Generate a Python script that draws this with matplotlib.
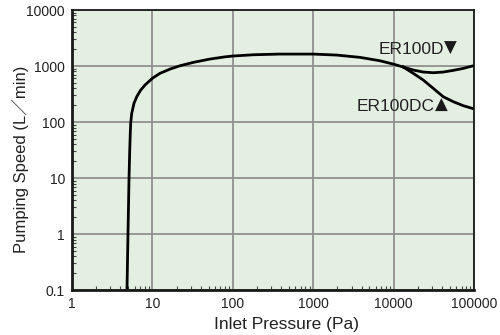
import numpy as np
import matplotlib.pyplot as plt
from matplotlib.ticker import LogLocator, NullFormatter, FixedLocator

plt.rcParams['font.family'] = ['Liberation Sans', 'Noto Sans CJK JP', 'DejaVu Sans']

# common part of the curve (Pa, L/min)
p_common = [4.83, 4.97, 5.12, 5.22, 5.30, 5.37, 5.53, 5.90, 6.38, 7.15, 8.09, 9.97,
            12.4, 16.6, 22.0, 32.3, 52, 80, 100, 180, 386, 1000, 1960, 3820, 6770,
            10000, 13200]
s_common = [0.1, 1, 10, 30, 60, 95, 143, 216, 283, 373, 458, 603,
            741, 884, 1012, 1164, 1334, 1460, 1510, 1591, 1637, 1637, 1571, 1429, 1244,
            1080, 960]

# ER100D branch
p_d = [13200, 17600, 23400, 31200, 41500, 55300, 73600, 100000]
s_d = [960, 848, 782, 760, 782, 838, 908, 1020]

# ER100DC branch
p_dc = [13200, 17600, 23400, 31200, 41500, 55300, 73600, 100000]
s_dc = [960, 740, 562, 399, 283, 231, 196, 172]

xticks = [1, 10, 100, 1000, 10000, 100000]
xlabels = ['1', '10', '100', '1000', '10000', '100000']
yticks = [0.1, 1, 10, 100, 1000, 10000]
ylabels = ['0.1', '1', '10', '100', '1000', '10000']

fig = plt.figure(figsize=(5, 3.35), dpi=100)
ax = fig.add_axes([0.144, 0.134, 0.804, 0.836])
ax.set_facecolor('#e3f0e1')

ax.plot(p_common, s_common, color='black', lw=2, solid_joinstyle='round')
ax.plot(p_d, s_d, color='black', lw=2, solid_joinstyle='round')
ax.plot(p_dc, s_dc, color='black', lw=2, solid_joinstyle='round')

ax.set_xscale('log')
ax.set_yscale('log')
ax.set_xlim(1, 100000)
ax.set_ylim(0.1, 10000)

ax.xaxis.set_major_locator(FixedLocator(xticks))
ax.yaxis.set_major_locator(FixedLocator(yticks))
ax.set_xticklabels(xlabels)
ax.set_yticklabels(ylabels)
ax.xaxis.set_minor_locator(LogLocator(base=10, subs=np.arange(2, 10)))
ax.yaxis.set_minor_locator(LogLocator(base=10, subs=np.arange(2, 10)))
ax.xaxis.set_minor_formatter(NullFormatter())
ax.yaxis.set_minor_formatter(NullFormatter())
ax.tick_params(which='major', length=0, labelsize=10, pad=5, colors='#222222')
ax.tick_params(which='minor', direction='in', length=3, width=0.8, color='#444444')

ax.grid(True, which='major', color='#909090', lw=1.3)
for side in ['left', 'bottom']:
    ax.spines[side].set_linewidth(2)
for side in ['top', 'right']:
    ax.spines[side].set_linewidth(1.3)
for s in ax.spines.values():
    s.set_color('#1a1a1a')

# series labels with solid triangles
def px(x, y):
    return (x - 72) / 402, 1 - (y - 10) / 280

ax.text(*px(444, 49), 'ER100D', transform=ax.transAxes,
        ha='right', va='center', fontsize=12.5, color='#222222')
ax.text(*px(444, 48), '▼', transform=ax.transAxes,
        ha='left', va='center', fontsize=12, color='#1a1a1a', family='DejaVu Sans')
ax.text(*px(435, 106), 'ER100DC', transform=ax.transAxes,
        ha='right', va='center', fontsize=12.5, color='#222222')
ax.text(*px(435, 105), '▲', transform=ax.transAxes,
        ha='left', va='center', fontsize=12, color='#1a1a1a', family='DejaVu Sans')

fig.text(287 / 500, 1 - 325 / 335, 'Inlet Pressure (Pa)', ha='center', va='center',
         fontsize=12.5, color='#222222')
fig.text(20 / 500, 1 - 159 / 335, 'Pumping Speed (L／min)', ha='center', va='center',
         rotation=90, fontsize=12, color='#222222')

fig.savefig('out.png', dpi=100)
